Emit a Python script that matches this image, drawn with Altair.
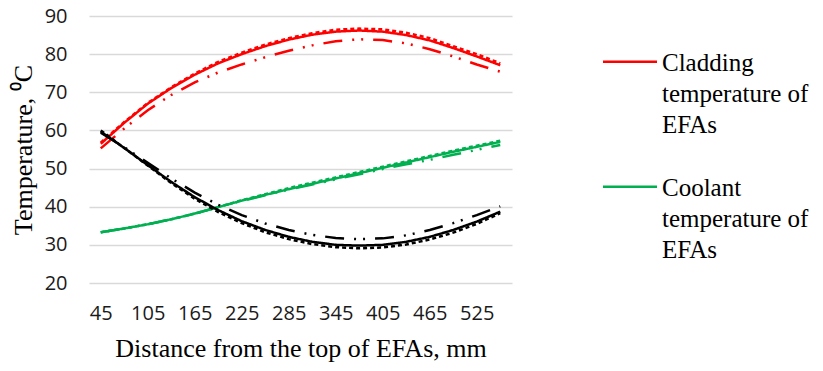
import altair as alt
import pandas as pd

# ---------------- data ----------------
distance = [45, 75, 105, 135, 165, 195, 225, 255, 285, 315, 345, 375, 405, 435, 465, 495, 525, 555]
x_tick_labels = [45, 105, 165, 225, 285, 345, 405, 465, 525]
y_tick_labels = [20, 30, 40, 50, 60, 70, 80, 90]

series_names = ["Cladding temperature of EFAs", "Coolant temperature of EFAs", "Third series"]
legend_lines = [["Cladding", "temperature of", "EFAs"], ["Coolant", "temperature of", "EFAs"]]
series_colors = ["#FF0000", "#00B050", "#000000"]
variants = ["solid", "square dot", "long dash dot dot"]

cladding_solid = [56.5, 62.0, 67.0, 71.1, 74.6, 77.6, 80.0, 82.1, 83.8, 85.1, 85.9, 86.2, 85.9, 85.0, 83.6, 81.6, 79.4, 77.1]
cladding_dot = [56.8, 62.2, 67.2, 71.3, 74.9, 78.0, 80.4, 82.5, 84.2, 85.5, 86.4, 86.7, 86.5, 85.6, 84.2, 82.1, 80.0, 77.6]
cladding_dashdot = [55.3, 60.5, 65.3, 69.3, 72.6, 75.2, 77.3, 79.2, 80.9, 82.3, 83.4, 83.9, 83.7, 82.8, 81.3, 79.4, 77.3, 75.4]

coolant_solid = [33.3, 34.3, 35.4, 36.7, 38.2, 39.9, 41.6, 43.1, 44.6, 46.0, 47.4, 48.8, 50.2, 51.6, 53.0, 54.4, 55.7, 57.0]
coolant_dot = [33.3, 34.3, 35.4, 36.7, 38.2, 39.9, 41.7, 43.3, 44.9, 46.3, 47.7, 49.1, 50.5, 51.9, 53.3, 54.7, 56.0, 57.3]
coolant_dashdot = [33.3, 34.3, 35.4, 36.7, 38.2, 39.9, 41.5, 43.0, 44.5, 45.8, 47.2, 48.5, 49.9, 51.1, 52.3, 53.6, 54.9, 56.2]

third_solid = [59.7, 55.4, 50.9, 46.5, 42.5, 39.1, 36.2, 33.9, 32.1, 30.8, 30.0, 29.8, 30.0, 30.8, 32.1, 33.9, 36.1, 38.7]
third_dot = [60.0, 55.4, 50.8, 46.2, 42.1, 38.6, 35.7, 33.3, 31.5, 30.2, 29.4, 29.1, 29.3, 30.1, 31.4, 33.2, 35.5, 38.3]
third_dashdot = [59.4, 55.6, 51.5, 47.4, 43.7, 40.5, 37.8, 35.6, 33.9, 32.6, 31.8, 31.5, 31.7, 32.5, 33.9, 35.7, 37.8, 40.1]

all_series = [
    [cladding_solid, cladding_dot, cladding_dashdot],
    [coolant_solid, coolant_dot, coolant_dashdot],
    [third_solid, third_dot, third_dashdot],
]

rows = []
for name, triple in zip(series_names, all_series):
    for var, vals in zip(variants, triple):
        for d, v in zip(distance, vals):
            rows.append({"distance": d, "temp": v, "series": name, "variant": var})
df = pd.DataFrame(rows)

# ---------------- styles ----------------
dash_patterns = [[1, 0], [4, 3], [19, 10, 2, 7, 2, 10]]
LINE_W = 2.5
SERIF = "Liberation Serif"
SANS = "Open Sans"

x_enc = alt.X(
    "distance:Q",
    scale=alt.Scale(domain=[30, 570], nice=False, zero=False),
    axis=alt.Axis(
        values=x_tick_labels,
        title="Distance from the top of EFAs, mm",
        grid=False,
        domain=False,
        ticks=False,
        labelPadding=20,
        titlePadding=12,
    ),
)
y_enc = alt.Y(
    "temp:Q",
    scale=alt.Scale(domain=[20, 90], nice=False, zero=False),
    axis=alt.Axis(
        values=y_tick_labels,
        title="Temperature, \u2070C",
        domain=False,
        ticks=False,
        labelPadding=22,
        titlePadding=8,
        gridColor="#D9D9D9",
        gridWidth=1.3,
    ),
)
color_enc = alt.Color(
    "series:N", scale=alt.Scale(domain=series_names, range=series_colors), legend=None
)
dash_enc = alt.StrokeDash(
    "variant:N", scale=alt.Scale(domain=variants, range=dash_patterns), legend=None
)

layers = []
for name in series_names:
    layers.append(
        alt.Chart(df[df["series"] == name])
        .mark_line(strokeWidth=LINE_W)
        .encode(x=x_enc, y=y_enc, color=color_enc, strokeDash=dash_enc, detail="variant:N")
    )

# ---------------- legend (two entries, like the reference) ----------------
legend_sym_y = [45.7, 170.7]
legend_txt_y = [54.7, 180.0]
dummy = pd.DataFrame({"k": [0]})
for i in range(2):
    layers.append(
        alt.Chart(dummy)
        .mark_rule(color=series_colors[i], strokeWidth=LINE_W)
        .encode(x=alt.value(514), x2=alt.value(568), y=alt.value(legend_sym_y[i]))
    )
    layers.append(
        alt.Chart(dummy)
        .mark_text(
            align="left", baseline="alphabetic", font=SERIF, fontSize=25, lineHeight=31, color="black"
        )
        .encode(x=alt.value(573), y=alt.value(legend_txt_y[i]), text=alt.value(legend_lines[i]))
    )

chart = (
    alt.layer(*layers)
    .properties(
        width=423,
        height=267,
        autosize=alt.AutoSizeParams(type="none"),
        padding={"left": 81, "top": 8, "right": 303, "bottom": 80},
    )
    .configure_view(stroke=None)
    .configure_axis(
        labelFont=SANS,
        labelFontSize=20,
        labelColor="#1a1a1a",
        titleFont=SERIF,
        titleFontSize=26,
        titleFontWeight="normal",
        titleColor="black",
    )
)

chart.save("out.html", embed_options={"renderer": "svg", "actions": False})
